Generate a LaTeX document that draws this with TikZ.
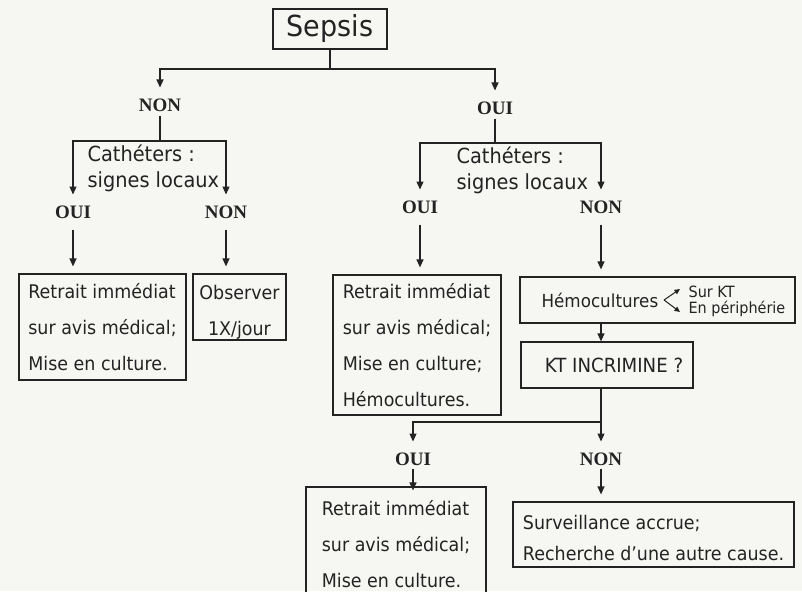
\documentclass[tikz,border=0pt]{standalone}
\usepackage{fontspec}
\setmainfont{DejaVu Sans}
\newfontfamily\boxfont{DejaVu Sans}[FakeStretch=0.93]
\newfontfamily\lblfont{Liberation Serif}
\usetikzlibrary{arrows.meta}
\definecolor{bgc}{RGB}{246,246,243}
\definecolor{txtc}{RGB}{35,35,35}

\begin{document}
\begin{tikzpicture}[x=1pt,y=-1pt,color=txtc,line width=1.2pt,
    >={Triangle[length=8pt,width=7pt]},
    box/.style={draw,inner sep=0pt,align=left,font=\boxfont\fontsize{18.8}{36}\selectfont},
    lbl/.style={inner sep=0pt,outer ysep=11pt,text height=13pt,text depth=0pt,
        font=\lblfont\bfseries\fontsize{19}{22}\selectfont},
    quest/.style={inner sep=0pt,align=left,font=\boxfont\fontsize{20.8}{26}\selectfont},
    small/.style={inner sep=0pt,font=\boxfont\fontsize{15.5}{17}\selectfont}]
\useasboundingbox (0,0) rectangle (802,591);
\clip (0,0) rectangle (802,591);
\fill[bgc] (0,0) rectangle (802,591);

\node[box,font=\boxfont\fontsize{29}{36}\selectfont,minimum width=114pt,minimum height=40pt]
    (sepsis) at (330,29) {Sepsis};
\node[lbl] (non1) at (160,105) {NON};
\node[lbl] (oui1) at (495,108) {OUI};
\coordinate (top) at (330,69);
\draw (sepsis.south) -- (top);
\draw[->] (top) -| (non1.north);
\draw[->] (top) -| (oui1.north);

\coordinate (s1) at (160,141);
\node[quest,anchor=west] (cath1) at (87,168) {Cathéters :\\signes locaux};
\node[lbl] (oui2) at (73,212) {OUI};
\node[lbl] (non2) at (226,212) {NON};
\draw ([yshift=7pt]non1.south) -- (s1);
\draw[->] (s1) -| (oui2.north);
\draw[->] (s1) -| (non2.north);
\node[box,minimum width=167pt,minimum height=106pt] (retrait1) at (102.5,327)
    {Retrait immédiat\\sur avis médical;\\Mise en culture.};
\node[box,align=center,minimum width=93pt,minimum height=66pt] (observ) at (239.5,307)
    {\rule{0pt}{25pt}Observer\\1X/jour};
\draw[->,shorten >=7pt] (oui2.south) -- (oui2.south |- retrait1.north);
\draw[->,shorten >=7pt] (non2.south) -- (non2.south |- observ.north);

\coordinate (s2) at (495,143);
\node[quest,anchor=west] (cath2) at (456,170) {Cathéters :\\signes locaux};
\node[lbl] (oui3) at (420,207) {OUI};
\node[lbl] (non3) at (601,207) {NON};
\draw ([yshift=7pt]oui1.south) -- (s2);
\draw[->] (s2) -| (oui3.north);
\draw[->] (s2) -| (non3.north);
\node[box,minimum width=168pt,minimum height=140pt] (retrait2) at (417,345)
    {Retrait immédiat\\sur avis médical;\\Mise en culture;\\Hémocultures.};
\node[box,minimum width=275pt,minimum height=46pt] (hemo) at (657.5,300) {};
\draw[->,shorten >=7pt] (oui3.south) -- (oui3.south |- retrait2.north);
\draw[->,shorten >=7pt] (non3.south) -- (non3.south |- hemo.north);

\node[anchor=west,inner sep=0pt,font=\boxfont\fontsize{18}{22}\selectfont]
    (hemotxt) at (541,300) {Hémocultures};
\node[small,anchor=west] (surkt) at (688,292) {Sur KT};
\node[small,anchor=west] (enperi) at (688,309) {En périphérie};
\coordinate (fork) at (664,300);
\draw[line width=1pt,-{Triangle[length=5.5pt,width=5pt]}]
    (fork) -- ([xshift=-8pt,yshift=3pt]surkt.west);
\draw[line width=1pt,-{Triangle[length=5.5pt,width=5pt]}]
    (fork) -- ([xshift=-8pt,yshift=-3pt]enperi.west);

\node[box,font=\boxfont\fontsize{19.5}{25}\selectfont,minimum width=172pt,minimum height=46pt]
    (kt) at (607,365) {\hspace*{14pt}KT INCRIMINE ?};
\draw[->] (non3 |- hemo.south) -- (non3 |- kt.north);
\coordinate (s3) at (601,422);
\draw (non3 |- kt.south) -- (s3);
\node[lbl] (oui4) at (413,459) {OUI};
\node[lbl] (non4) at (601,459) {NON};
\draw[->] (s3) -| (oui4.north);
\draw[->] (s3) -- (non4.north);
\node[box,minimum width=180pt,minimum height=114pt] (retrait3) at (396,544)
    {Retrait immédiat\\sur avis médical;\\Mise en culture.};
\draw[->,shorten >=-4pt] ([yshift=8pt]oui4.south) -- (oui4.south |- retrait3.north);
\node[box,font=\boxfont\fontsize{18.8}{31}\selectfont,minimum width=281pt,minimum height=65pt]
    (surv) at (653.5,534.5) {\rule{0pt}{21pt}Surveillance accrue;\\Recherche d’une autre cause.};
\draw[->,shorten >=7pt] ([yshift=8pt]non4.south) -- (non4.south |- surv.north);
\end{tikzpicture}
\end{document}
